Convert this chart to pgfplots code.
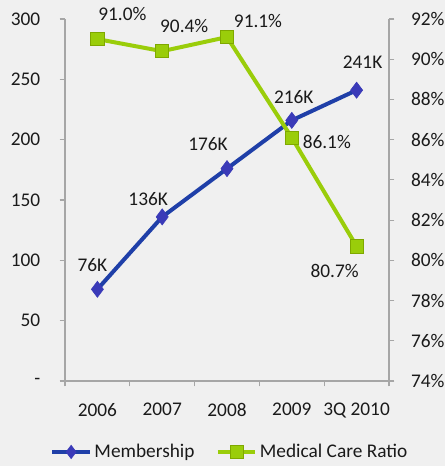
\documentclass[border=0pt]{standalone}
\usepackage{pgfplots}
\pgfplotsset{compat=1.18}
\usepackage{pgfplotstable}
\usepackage{fontspec}
\setmainfont{Carlito}
\definecolor{bg}{HTML}{F0F0F0}
\definecolor{axgray}{HTML}{A6A6A6}
\definecolor{memblue}{HTML}{1F3FA8}
\definecolor{memmark}{HTML}{3A3AB8}
\definecolor{mcrgreen}{HTML}{9ACD0A}
\definecolor{mcrdark}{HTML}{7FA800}
\definecolor{txt}{HTML}{1A1A1A}

\pgfplotstableread{
x y lab dx dy
0 76 76K -5 24
1 136 136K -14 18
2 176 176K -19 25
3 216 216K 2 23
4 241 241K 6 28
}\memtab
\pgfplotstableread{
x y lab dx dy
0 91.0 91.0\% 25 25
1 90.4 90.4\% 22 25
2 91.1 91.1\% 31 16
3 86.1 86.1\% 35 -4
4 80.7 80.7\% -22 -25
}\mcrtab

\newcommand{\lblfont}{\fontsize{14.5}{17}\selectfont}

\pgfplotsset{
  base/.style={
    scale only axis, width=243pt, height=271.5pt,
    at={(48.75pt,63.75pt)}, anchor=south west,
    xmin=-0.5, xmax=4.5, clip=false,
    axis line style={axgray, line width=0.8pt, -},
    tick style={axgray, line width=0.8pt},
    tick align=outside,
    major tick length=4pt, minor tick length=4pt,
    ticklabel style={font=\lblfont, text=txt},
  },
  lbls/.style={
    nodes near coords, point meta=explicit symbolic,
    visualization depends on={\thisrow{dx} \as \dx},
    visualization depends on={\thisrow{dy} \as \dy},
    every node near coord/.append style={anchor=center, inner sep=0pt,
      font=\lblfont, text=txt, xshift={\dx*0.75pt}, yshift={\dy*0.75pt}},
  },
}

\begin{document}
\begin{tikzpicture}
\useasboundingbox (0,0) rectangle (333.75pt,349.5pt);
\fill[bg] (0,0) rectangle (333.75pt,349.5pt);
\begin{axis}[base,
  ymin=0, ymax=300,
  axis x line*=bottom, axis y line*=left,
  xtick={0,...,4},
  xticklabels={2006,2007,2008,2009,3Q 2010},
  major x tick style={draw=none},
  minor xtick={-0.5,0.5,...,4.5},
  xticklabel style={yshift=-9pt},
  ytick={0,50,...,300},
  yticklabels={-,50,100,150,200,250,300},
  yticklabel style={xshift=-11pt},
]
\addplot[memblue, line width=3pt, mark=diamond*, mark size=6pt,
  mark options={fill=memmark, draw=memmark, line width=0.5pt}, lbls]
  table[x=x, y=y, meta=lab] {\memtab};
\end{axis}
\begin{axis}[base,
  ymin=74, ymax=92,
  axis x line=none, axis y line*=right,
  ytick={74,76,...,92},
  yticklabels={74\%,76\%,78\%,80\%,82\%,84\%,86\%,88\%,90\%,92\%},
  yticklabel style={xshift=9pt},
  legend style={at={(0.51,-0.196)}, anchor=center, draw=none, fill=none,
    legend columns=2, font=\lblfont, text=txt,
    /tikz/every even column/.append style={column sep=14pt}},
  legend cell align=left,
  legend image code/.code={
    \draw[#1, mark repeat=2, mark phase=2] plot coordinates {(0pt,0pt) (14pt,0pt) (28pt,0pt)};
  },
]
\addlegendimage{memblue, line width=3pt, mark=diamond*, mark size=5pt,
  mark options={fill=memmark, draw=memmark, line width=0.5pt}}
\addlegendentry{Membership}
\addplot[mcrgreen, line width=3pt, mark=square*, mark size=5pt,
  mark options={fill=mcrgreen, draw=mcrdark, line width=0.6pt}, lbls]
  table[x=x, y=y, meta=lab] {\mcrtab};
\addlegendentry{Medical Care Ratio}
\end{axis}
\end{tikzpicture}
\end{document}
